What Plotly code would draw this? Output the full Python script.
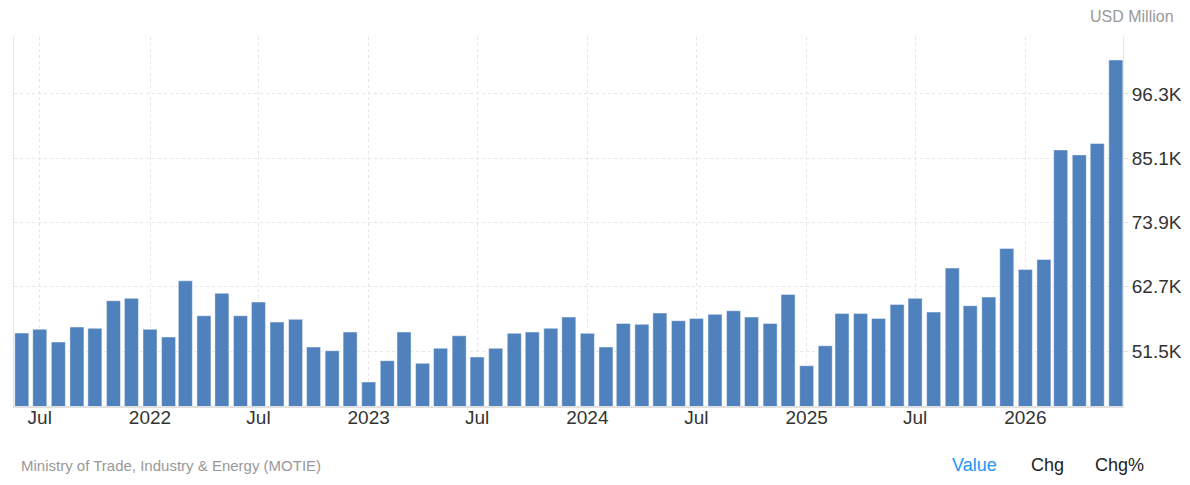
import pandas as pd
import plotly.graph_objects as go

# monthly values, USD million (Jun 2021 - Jun 2026)
months = pd.date_range("2021-06-01", "2026-06-01", freq="MS")
values = [
    54630, 55280, 53070, 55680, 55450, 60260, 60680,            # 2021 Jun-Dec
    55280, 53940, 63740, 57650, 61550, 57650, 60030, 56550,     # 2022
    57020, 52200, 51550, 54810,
    46100, 49810, 54810, 49360, 51970, 54160, 50460, 51970,     # 2023
    54580, 54810, 55450, 57420,
    54580, 52200, 56320, 56150, 58120, 56780, 57190, 57890,     # 2024
    58520, 57420, 56320, 61370,
    48940, 52420, 58060, 58060, 57190, 59630, 60680, 58290,     # 2025
    65950, 59390, 60900, 69380,
    65730, 67470, 86550, 85680, 87670, 102220,                  # 2026
]

x_tick_dates = ["2021-07-01", "2022-01-01", "2022-07-01", "2023-01-01", "2023-07-01",
                "2024-01-01", "2024-07-01", "2025-01-01", "2025-07-01", "2026-01-01"]
x_tick_text = ["Jul", "2022", "Jul", "2023", "Jul", "2024", "Jul", "2025", "Jul", "2026"]

y_tick_vals = [51500, 62700, 73900, 85100, 96300]
y_tick_text = ["51.5K", "62.7K", "73.9K", "85.1K", "96.3K"]

# the page has an 8px body margin, so the figure is a bit smaller than the window
W, H = 1174, 469
L, R, T, B = 6, 59, 29, 71

# plot area in window pixels: x 14..1123, y 37..406
def px(x):
    return (x - 14) / 1109


def py(y):
    return (406 - y) / 369


fig = go.Figure()
fig.add_trace(go.Bar(
    x=months,
    y=values,
    width=23.4 * 86400000,
    marker=dict(color="#4f81bd", line=dict(color="rgba(255,255,255,0.45)", width=1)),
    hoverinfo="x+y",
))

grid = "#e6e6e6"
fig.update_layout(
    width=W, height=H,
    margin=dict(l=L, r=R, t=T, b=B),
    paper_bgcolor="white",
    plot_bgcolor="white",
    showlegend=False,
    font=dict(family="Liberation Sans, Arial, sans-serif", color="#333333"),
    xaxis=dict(
        type="date",
        automargin=False,
        range=["2021-05-19", "2026-06-13"],
        tickvals=x_tick_dates,
        ticktext=x_tick_text,
        tickfont=dict(size=19, color="#333333"),
        ticklabelstandoff=-7,
        showgrid=True, gridcolor=grid, griddash="dot", gridwidth=1,
        showline=True, linecolor="#e0e0e0", linewidth=2,
        ticks="", zeroline=False,
    ),
    yaxis=dict(
        side="right",
        automargin=False,
        range=[41920, 106230],
        tickvals=y_tick_vals,
        ticktext=y_tick_text,
        tickfont=dict(size=19, color="#333333"),
        showgrid=True, gridcolor=grid, griddash="dot", gridwidth=1,
        showline=True, linecolor="#e6e6e6", linewidth=1, mirror=True,
        ticks="outside", ticklen=4, tickcolor="#e0e0e0",
        zeroline=False,
    ),
    annotations=[
        dict(text="USD Million", x=px(1176), y=py(16), xref="paper", yref="paper",
             xanchor="right", yanchor="middle", showarrow=False,
             font=dict(size=16, color="#999999")),
        dict(text="Ministry of Trade, Industry & Energy (MOTIE)", x=px(19), y=py(465),
             xref="paper", yref="paper", xanchor="left", yanchor="middle", showarrow=False,
             font=dict(size=15, color="#999999")),
        dict(text="Value", x=px(974), y=py(465), xref="paper", yref="paper",
             xanchor="center", yanchor="middle", showarrow=False,
             font=dict(size=18, color="#2196f3")),
        dict(text="Chg", x=px(1047), y=py(465), xref="paper", yref="paper",
             xanchor="center", yanchor="middle", showarrow=False,
             font=dict(size=18, color="#222222")),
        dict(text="Chg%", x=px(1119), y=py(465), xref="paper", yref="paper",
             xanchor="center", yanchor="middle", showarrow=False,
             font=dict(size=18, color="#222222")),
    ],
)

fig.write_html("out.html")
